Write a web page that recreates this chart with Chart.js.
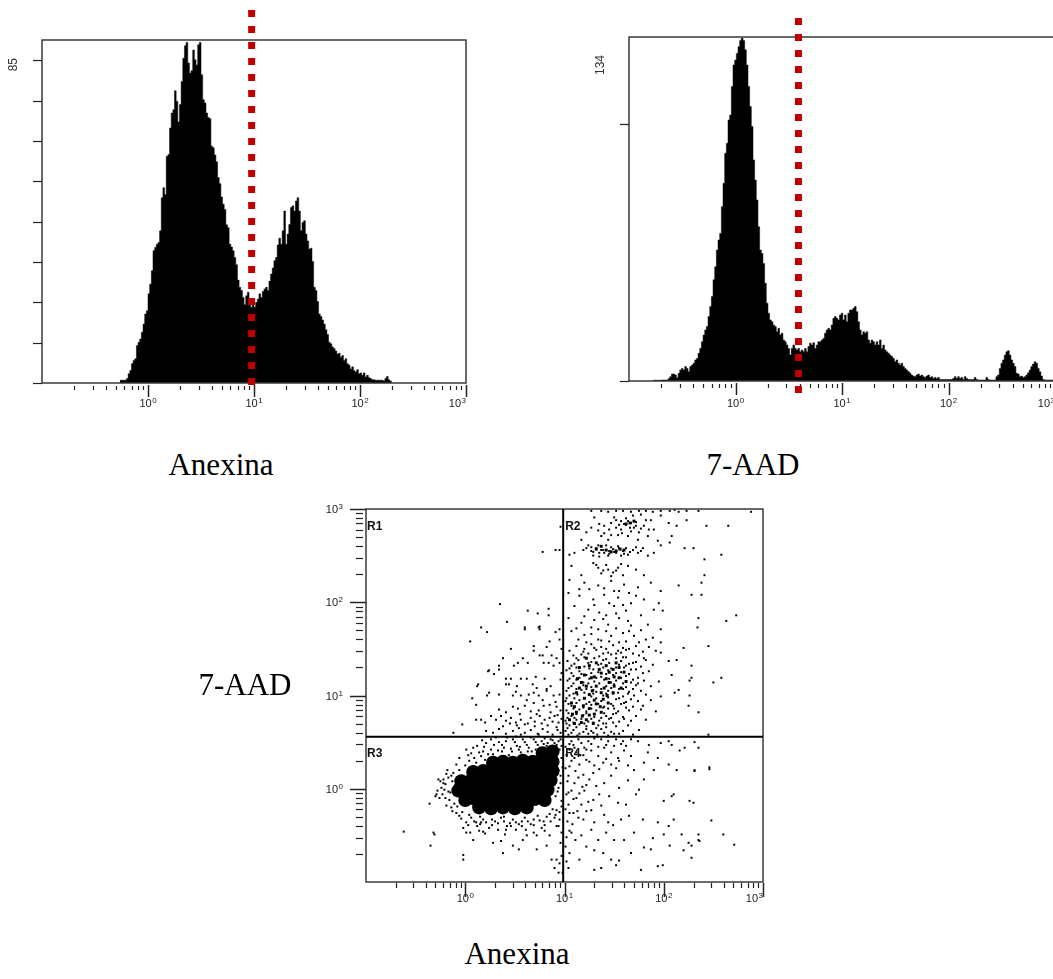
<!DOCTYPE html>
<html>
<head>
<meta charset="utf-8">
<script src="https://cdn.jsdelivr.net/npm/chart.js@4.4.1/dist/chart.umd.min.js"></script>
<style>
  html, body { margin: 0; padding: 0; background: #fff; overflow: hidden; width: 1053px; height: 979px; }
  canvas { position: absolute; }
  .caption { position: absolute; width: 200px; text-align: center; white-space: nowrap;
             font-family: "Liberation Serif", "Times New Roman", serif; font-size: 31px; line-height: 31px; color: #000; }
</style>
</head>
<body>
<canvas id="anxHist" width="480" height="420" style="left:0;top:0"></canvas>
<canvas id="aadHist" width="484" height="420" style="left:580px;top:0"></canvas>
<canvas id="dotPlot" width="460" height="440" style="left:320px;top:495px"></canvas>
<div class="caption" style="left:121px;top:449px">Anexina</div>
<div class="caption" style="left:653px;top:449px">7-AAD</div>
<div class="caption" style="left:145px;top:669px">7-AAD</div>
<div class="caption" style="left:417px;top:938px">Anexina</div>
<script>
// 1024 channels over 4 decades; histograms are stored in 4-channel bins
const BIN_CHANNELS = 4;

// Anexina histogram (counts per bin, starting at channel 188)
const anxFirstChannel = 188;
const anxCounts = [
  0.7, 0.7, 0.7, 0.7, 1.1, 2.3, 3.1, 4.8, 5.6, 6.0,
  9.3, 10.1, 10.9, 12.6, 14.6, 17.1, 17.9, 22.1, 24.5, 27.8,
  32.8, 33.6, 34.4, 34.8, 37.7, 45.9, 48.4, 46.7, 56.2, 56.6,
  63.2, 66.9, 67.7, 72.4, 69.8, 64.7, 69.0, 74.7, 80.5, 83.6,
  84.4, 79.3, 76.8, 77.4, 82.5, 80.1, 78.8, 83.8, 84.4, 76.4,
  70.2, 69.4, 66.9, 65.8, 65.5, 58.7, 58.3, 56.5, 54.8, 50.9,
  49.4, 46.1, 44.3, 43.0, 39.2, 38.5, 34.4, 33.7, 32.8, 31.1,
  29.3, 25.5, 23.7, 22.9, 21.2, 19.4, 21.6, 22.5, 20.8, 18.8,
  19.4, 18.8, 20.0, 20.8, 22.1, 21.2, 22.7, 23.3, 23.7, 22.9,
  25.2, 27.0, 28.5, 30.3, 31.1, 34.2, 35.9, 34.4, 37.7, 42.6,
  34.4, 36.9, 39.3, 43.5, 43.9, 42.6, 45.1, 45.9, 42.6, 37.7,
  39.8, 40.2, 36.9, 35.2, 33.2, 33.4, 30.1, 23.7, 22.9, 20.2,
  17.1, 16.5, 15.6, 14.6, 13.2, 12.0, 10.1, 9.7, 8.9, 8.5,
  7.9, 7.2, 7.4, 6.4, 6.8, 5.6, 6.0, 4.8, 4.4, 3.5,
  4.0, 3.1, 2.7, 3.3, 2.3, 2.5, 1.9, 2.5, 1.5, 1.9,
  1.3, 1.1, 0.8, 0.8, 0.7, 0.7, 0.7, 0.7, 0.7, 0.5,
  1.1, 1.6, 0.8, 0.5
];
const anxMax = 85;
const anxYTicks = [0, 10, 20, 30, 40, 50, 60, 70, 80];
const anxGate = 9.5;

// 7-AAD histogram (counts per bin, starting at channel 58)
const aadFirstChannel = 58;
const aadCounts = [
  0.3, 0.3, 0.3, 0.3, 0.3, 0.4, 0.4, 0.4, 0.4, 1.0,
  1.7, 2.7, 2.7, 2.3, 1.3, 3.0, 4.3, 4.9, 4.3, 5.6,
  4.9, 3.6, 5.6, 6.2, 6.9, 8.2, 8.8, 10.8, 12.7, 15.3,
  17.9, 19.9, 21.2, 25.1, 29.0, 32.9, 39.4, 44.5, 51.0, 54.9,
  57.5, 67.9, 77.0, 88.7, 92.6, 101.7, 103.6, 114.7, 123.1, 125.0,
  127.6, 130.2, 132.6, 133.6, 132.6, 129.0, 123.1, 114.7, 106.9, 99.1,
  86.1, 78.3, 70.5, 60.1, 51.0, 49.7, 45.8, 38.1, 30.3, 26.4,
  23.8, 23.1, 21.8, 21.2, 19.2, 20.5, 17.9, 18.6, 16.0, 15.3,
  14.0, 12.7, 10.1, 12.7, 14.0, 12.7, 12.1, 12.7, 11.4, 12.1,
  11.4, 12.7, 11.4, 13.4, 14.7, 14.0, 14.9, 12.7, 14.0, 15.3,
  15.3, 16.0, 16.6, 18.6, 19.9, 20.5, 19.9, 21.8, 24.4, 25.1,
  24.4, 23.8, 25.7, 26.4, 23.8, 25.7, 23.1, 26.4, 27.7, 27.7,
  28.3, 29.0, 27.0, 23.1, 19.9, 17.9, 19.2, 18.6, 19.2, 16.0,
  14.7, 16.0, 15.3, 14.0, 15.3, 14.0, 16.0, 12.7, 14.0, 12.1,
  11.4, 10.8, 10.1, 9.5, 8.8, 7.5, 8.2, 6.9, 6.2, 6.9,
  5.6, 4.9, 4.3, 3.6, 3.0, 2.3, 1.9, 1.7, 2.3, 2.7,
  1.9, 2.3, 1.7, 1.4, 1.9, 2.3, 1.4, 1.7, 1.0, 1.4,
  1.0, 1.4, 0.6, 0.6, 0.6, 0.6, 0.6, 0.6, 0.6, 0.6,
  1.0, 1.7, 1.0, 1.7, 1.0, 1.4, 0.6, 1.7, 1.0, 0.6,
  0.6, 0.6, 0.6, 1.4, 0.6, 0.4, 0.4, 0.4, 0.4, 0.4,
  1.4, 0.6, 0.4, 0.4, 0.4, 0.4, 1.7, 2.3, 4.9, 6.9,
  8.2, 10.1, 11.4, 11.8, 10.1, 8.2, 6.9, 5.6, 3.0, 2.7,
  1.7, 1.9, 1.4, 1.7, 2.3, 3.2, 4.3, 5.6, 6.6, 7.5,
  6.9, 4.9, 3.6, 1.9, 0.6, 0.4, 0.4, 0.4, 0.4, 0.4,
  0.4
];
const aadMax = 134;
const aadYTicks = [0, 100];
const aadGate = 3.9;

// log axis tick positions; the decades get a "10^n" label
const decadeTicks = [
  0.2, 0.3, 0.4, 0.5, 0.6, 0.7, 0.8, 0.9, 1,
  2, 3, 4, 5, 6, 7, 8, 9, 10,
  20, 30, 40, 50, 60, 70, 80, 90, 100,
  200, 300, 400, 500, 600, 700, 800, 900, 1000
];
const labelledDecades = [1, 10, 100, 1000];

// dot plot quadrant gates (Anexina, 7-AAD)
const quadAnx = 9.7;
const quadAad = 3.6;
const quadNames = ['R1', 'R2', 'R3', 'R4'];

// dot plot events, stored as [log10 Anexina, log10 7-AAD]
const r1Events = [
  [0.96,2.81],[0.78,2.54],[0.91,2.56],[0.95,2.56],[0.35,1.98],[0.63,1.91],[0.73,1.88],[0.84,1.93],[0.84,1.86],[0.42,1.79],
  [0.16,1.73],[0.22,1.68],[0.60,1.73],[0.75,1.74],[0.75,1.71],[0.91,1.68],[0.95,1.71],[0.05,1.58],[0.46,1.50],[0.69,1.53],
  [0.69,1.48],[0.82,1.52],[0.85,1.58],[0.95,1.60],[0.97,1.50],[0.38,1.40],[0.58,1.40],[0.75,1.43],[0.78,1.43],[0.87,1.43],
  [0.92,1.40],[0.34,1.32],[0.34,1.28],[0.49,1.32],[0.53,1.35],[0.63,1.35],[0.79,1.35],[0.84,1.35],[0.89,1.32],[0.95,1.35],
  [0.24,1.27],[0.29,1.23],[0.97,1.24],[0.41,1.18],[0.46,1.18],[0.56,1.18],[0.62,1.18],[0.71,1.20],[0.80,1.18],[0.96,1.17],
  [0.12,1.10],[0.41,1.12],[0.44,1.12],[0.52,1.10],[0.72,1.08],[0.82,1.07],[0.07,0.97],[0.22,1.00],[0.24,1.03],[0.34,1.01],
  [0.48,1.00],[0.51,1.04],[0.56,1.00],[0.64,1.01],[0.69,1.03],[0.74,1.00],[0.82,1.05],[0.89,1.00],[0.95,1.01],[0.11,0.90],
  [0.34,0.85],[0.41,0.82],[0.48,0.88],[0.53,0.86],[0.60,0.89],[0.69,0.92],[0.74,0.84],[0.79,0.89],[0.85,0.90],[0.92,0.88],
  [0.96,0.84],[0.11,0.74],[0.16,0.74],[0.20,0.71],[0.26,0.78],[0.31,0.74],[0.36,0.78],[0.41,0.73],[0.46,0.76],[0.51,0.71],
  [0.56,0.74],[0.60,0.69],[0.66,0.76],[0.70,0.72],[0.75,0.78],[0.80,0.74],[0.85,0.76],[0.90,0.78],[0.94,0.71],[0.97,0.75],
  [-0.03,0.69],[-0.12,0.60],[0.21,0.62],[0.28,0.60],[0.34,0.64],[0.41,0.59],[0.48,0.62],[0.54,0.65],[0.60,0.60],[0.66,0.63],
  [0.73,0.59],[0.78,0.64],[0.83,0.61],[0.88,0.58],[0.93,0.63],[0.96,0.60],[0.56,0.58],[0.74,0.58],[0.23,1.26],[0.13,1.12],
  [0.60,1.71],[0.74,1.73],
  [0.63,0.70],[0.70,0.67],[0.77,0.70],[0.83,0.68],[0.88,0.72],[0.92,0.66],[0.52,0.68],[0.45,0.70],[0.38,0.67],[0.72,0.80],
  [0.86,0.82],[0.93,0.79],[0.66,0.83],[0.55,0.80],[0.91,0.93],[0.78,0.95],[0.62,0.95],[0.86,1.10],[0.68,1.12]
];
const r2Events = [
  [1.27,2.98],[1.37,2.98],[1.44,2.97],[1.52,2.98],[1.59,2.98],[1.67,2.97],[1.75,2.98],[1.82,2.98],[1.89,2.97],[1.97,2.98],
  [2.06,2.98],[2.15,2.97],[2.23,2.98],[2.35,2.98],[2.88,2.97],
  [1.27,2.80],[1.34,2.77],[1.40,2.82],[1.47,2.85],[1.52,2.80],[1.57,2.87],[1.62,2.83],[1.67,2.85],[1.70,2.80],[1.75,2.75],
  [1.80,2.82],[1.37,2.71],[1.44,2.67],[1.54,2.72],[1.64,2.71],[1.74,2.67],[1.84,2.71],[1.90,2.78],[1.97,2.93],[2.05,2.85],
  [2.08,2.71],[2.13,2.82],[1.30,2.91],[1.17,2.67],[1.22,2.75],[1.87,2.88],[1.94,2.66],[1.69,2.93],[1.50,2.91],[1.77,2.94],
  [1.60,2.84],[1.64,2.87],[1.55,2.83],[1.72,2.86],
  [1.52,2.88],[1.57,2.78],[1.62,2.90],[1.66,2.80],[1.72,2.82],[1.77,2.79],[1.45,2.78],[1.40,2.74],[1.58,2.74],[1.67,2.76],
  [1.82,2.88],[1.35,2.84],[1.47,2.72],[1.85,2.78],
  [1.19,2.56],[1.24,2.61],[1.27,2.55],[1.32,2.58],[1.35,2.53],[1.39,2.56],[1.42,2.61],[1.45,2.55],[1.49,2.57],[1.52,2.53],
  [1.55,2.58],[1.59,2.55],[1.64,2.51],[1.69,2.56],[1.74,2.53],[1.79,2.58],[1.84,2.50],[1.29,2.50],[1.44,2.50],[1.57,2.50],
  [1.10,2.53],[1.90,2.53],[1.97,2.61],[1.05,2.51],
  [1.22,2.58],[1.29,2.54],[1.34,2.61],[1.37,2.56],[1.40,2.53],[1.47,2.59],[1.50,2.54],[1.54,2.60],[1.62,2.58],[1.66,2.54],
  [1.72,2.59],[1.77,2.55],[1.27,2.59],[1.45,2.52],[1.60,2.52],[1.35,2.49],
  [1.29,2.42],[1.34,2.37],[1.39,2.34],[1.44,2.35],[1.49,2.32],[1.54,2.37],[1.59,2.29],[1.17,2.29],[1.64,2.39],[1.72,2.35],
  [1.80,2.29],[1.07,2.39],[1.32,2.40],[1.42,2.40],[1.52,2.34],[1.57,2.41],[1.37,2.31],[1.47,2.28],
  [1.05,2.24],[1.20,2.21],[1.34,2.18],[1.47,2.23],[1.60,2.19],[1.74,2.16],[1.87,2.21],[1.97,2.12],[1.04,2.10],[1.15,2.07],
  [1.29,2.03],[1.40,2.08],[1.54,2.05],[1.67,1.99],[1.80,2.03],[1.10,1.96],[1.24,1.92],[1.35,1.89],[1.50,1.96],[1.62,1.91],
  [1.77,1.86],[1.90,1.92],[1.04,1.83],[1.17,1.78],[1.30,1.81],[1.44,1.76],[1.55,1.83],[1.67,1.75],[1.84,1.76],[1.97,1.71],
  [1.07,1.69],[1.20,1.65],[1.34,1.71],[1.47,1.64],[1.59,1.67],[1.70,1.64],[1.82,1.60],[1.14,1.60],[1.37,1.59],[1.55,1.57],
  [1.27,1.73],[1.42,1.86],[1.72,2.07],[1.99,1.91],[1.50,2.12],
  [1.15,2.14],[1.25,2.14],[1.40,2.15],[1.55,2.12],[1.65,2.10],[1.30,1.97],[1.45,1.99],[1.59,1.97],[1.20,1.85],[1.39,1.82],
  [1.52,1.88],[1.64,1.80],[1.12,1.72],[1.27,1.66],[1.42,1.69],[1.52,1.72],[1.65,1.69],[1.77,1.70],[1.22,1.57],[1.34,1.60],
  [1.45,1.58],[1.62,1.58],[1.75,1.57],[1.89,1.62],
  [2.11,2.99],[2.23,2.88],[2.43,2.82],[2.65,2.82],[2.06,2.64],[2.21,2.58],[2.30,2.58],[2.41,2.46],[2.58,2.51],[2.41,2.29],
  [2.15,2.18],[2.38,2.21],[2.28,2.08],[2.38,2.08],[1.95,1.99],[2.35,1.83],[2.73,1.86],[2.63,1.80],[2.45,1.53],[2.20,1.51],
  [2.13,1.38],[2.28,1.32],[2.50,1.14],[2.58,1.19],[2.28,1.19],[2.26,1.16],[2.15,1.06],[2.08,1.22],[1.97,1.46],[2.05,1.37],
  [1.97,1.57],[2.35,0.82],[2.26,1.00],[2.25,0.89],[2.11,1.03],[2.45,0.58],[2.34,1.73],
  [1.12,1.53],[1.27,1.55],[1.37,1.52],[1.49,1.54],[1.59,1.51],[1.72,1.53],[1.85,1.52],
  [1.05,1.48],[1.19,1.47],[1.32,1.49],[1.44,1.46],[1.54,1.48],[1.65,1.50],[1.79,1.47],[1.92,1.48],
  [1.09,1.43],[1.17,1.44],[1.35,1.42],[1.47,1.44],[1.62,1.41],[1.75,1.43],
  [1.03,1.37],[1.14,1.38],[1.27,1.36],[1.39,1.38],[1.57,1.37],[1.69,1.35],[1.82,1.38],
  [1.07,1.32],[1.20,1.31],[1.34,1.33],[1.52,1.30],[1.62,1.32],[1.77,1.31],[1.89,1.33],
  [1.02,1.27],[1.15,1.26],[1.29,1.28],[1.44,1.27],[1.57,1.25],[1.67,1.28],[1.85,1.26],
  [1.09,1.21],[1.22,1.22],[1.37,1.20],[1.49,1.22],[1.62,1.21],[1.74,1.19],
  [1.03,1.16],[1.12,1.17],[1.30,1.15],[1.40,1.17],[1.52,1.16],[1.67,1.14],[1.80,1.16],[1.95,1.15],
  [1.07,1.10],[1.19,1.11],[1.27,1.09],[1.42,1.10],[1.50,1.12],[1.62,1.09],[1.72,1.11],[1.87,1.10],
  [1.02,1.05],[1.17,1.06],[1.32,1.04],[1.44,1.05],[1.55,1.07],[1.65,1.04],[1.77,1.05],
  [1.05,1.00],[1.13,1.01],[1.27,0.99],[1.39,1.00],[1.49,1.02],[1.59,0.99],[1.70,1.00],[1.82,1.01],[1.97,0.99],
  [1.01,0.94],[1.15,0.95],[1.25,0.93],[1.37,0.94],[1.52,0.96],[1.62,0.93],[1.74,0.94],[1.87,0.95],
  [1.07,0.89],[1.27,0.90],[1.40,0.88],[1.49,0.89],[1.57,0.91],[1.69,0.88],[1.79,0.89],
  [1.02,0.84],[1.15,0.85],[1.22,0.83],[1.32,0.84],[1.44,0.86],[1.54,0.83],[1.65,0.84],[1.77,0.85],[1.92,0.83],
  [1.07,0.78],[1.19,0.79],[1.30,0.77],[1.42,0.78],[1.49,0.80],[1.59,0.77],[1.72,0.78],
  [1.01,0.73],[1.12,0.74],[1.24,0.72],[1.35,0.73],[1.45,0.75],[1.55,0.72],[1.67,0.73],[1.82,0.74],
  [1.05,0.68],[1.15,0.69],[1.22,0.67],[1.34,0.68],[1.42,0.70],[1.52,0.67],[1.64,0.68],
  [1.01,0.62],[1.09,0.63],[1.19,0.61],[1.27,0.62],[1.37,0.64],[1.47,0.61],[1.59,0.62],[1.75,0.63],
  [1.04,0.58],[1.13,0.57],[1.24,0.59],[1.33,0.58],[1.44,0.57],[1.55,0.59],[1.69,0.58],
  [1.20,1.50],[1.30,1.51],[1.42,1.50],[1.62,1.49],[1.24,1.45],[1.39,1.45],[1.52,1.45],[1.57,1.46],[1.69,1.45],
  [1.12,1.40],[1.20,1.41],[1.30,1.40],[1.42,1.39],[1.52,1.40],[1.59,1.41],[1.80,1.40],
  [1.10,1.34],[1.24,1.35],[1.37,1.34],[1.45,1.35],[1.55,1.33],[1.65,1.34],[1.72,1.36],
  [1.05,1.29],[1.12,1.30],[1.25,1.29],[1.39,1.30],[1.47,1.29],[1.60,1.30],[1.72,1.28],
  [1.07,1.24],[1.17,1.23],[1.27,1.24],[1.34,1.25],[1.42,1.23],[1.52,1.24],[1.65,1.23],[1.79,1.24],
  [1.05,1.18],[1.15,1.19],[1.25,1.18],[1.32,1.19],[1.45,1.18],[1.57,1.19],[1.69,1.17],
  [1.09,1.13],[1.19,1.14],[1.24,1.13],[1.35,1.13],[1.47,1.14],[1.59,1.13],[1.74,1.13],
  [1.04,1.08],[1.12,1.07],[1.22,1.07],[1.29,1.06],[1.37,1.07],[1.47,1.08],[1.59,1.07],[1.69,1.07],
  [1.09,1.02],[1.20,1.03],[1.29,1.02],[1.42,1.02],[1.54,1.03],[1.64,1.02],
  [1.02,0.97],[1.10,0.97],[1.20,0.97],[1.32,0.97],[1.44,0.98],[1.55,0.97],[1.67,0.96],
  [1.04,0.91],[1.12,0.92],[1.22,0.91],[1.34,0.91],[1.47,0.91],[1.60,0.92],
  [1.09,0.86],[1.19,0.87],[1.27,0.86],[1.39,0.87],[1.50,0.86],[1.62,0.87],
  [1.04,0.81],[1.12,0.80],[1.22,0.81],[1.30,0.80],[1.40,0.81],[1.52,0.81],
  [1.03,0.76],[1.10,0.76],[1.17,0.75],[1.27,0.75],[1.37,0.76],[1.47,0.76],[1.60,0.75],
  [1.02,0.70],[1.09,0.71],[1.20,0.70],[1.29,0.71],[1.39,0.70],[1.49,0.71],
  [1.03,0.65],[1.12,0.66],[1.22,0.64],[1.32,0.65],[1.42,0.66],
  [1.07,0.60],[1.15,0.59],[1.29,0.60],[1.40,0.60],[1.50,0.59]
];
const r3Events = [
  [-0.62,-0.46],[-0.35,-0.61],[-0.32,-0.47],[-0.31,-0.49],[-0.36,-0.16],[-0.29,-0.06],[-0.27,0.10],[-0.22,0.06],[-0.21,-0.01],[-0.02,-0.71],
  [-0.02,-0.76],[0.08,-0.55],[0.18,-0.46],[0.01,-0.47],[0.11,-0.36],[0.16,-0.36],[0.28,-0.58],[0.36,-0.56],[0.38,-0.69],[0.48,-0.61],
  [0.54,-0.65],[0.58,-0.55],[0.69,-0.47],[0.72,-0.50],[0.72,-0.65],[0.82,-0.61],[0.85,-0.50],[0.87,-0.76],[0.92,-0.76],[0.90,-0.85],
  [0.94,-0.90],[0.41,-0.44],[0.61,-0.44],[0.46,-0.40],
  [-0.06,0.33],[0.01,0.42],[0.06,0.38],[0.12,0.46],[0.16,0.35],[0.21,0.49],[0.26,0.42],[0.30,0.33],[0.34,0.50],[0.39,0.44],
  [0.44,0.36],[0.48,0.53],[0.52,0.46],[0.56,0.39],[0.60,0.50],[0.64,0.44],[0.69,0.53],[0.73,0.47],[0.77,0.51],[0.82,0.46],
  [0.86,0.53],[0.90,0.49],[0.94,0.51],[0.97,0.46],[0.85,0.42],[0.41,0.51],[0.26,0.53],[0.04,0.30],[0.11,0.28],[0.20,0.31],
  [-0.24,0.01],[-0.20,-0.10],[-0.17,0.12],[-0.14,-0.20],[-0.12,0.17],[-0.09,-0.26],[-0.19,-0.18],[-0.15,-0.04],[-0.10,0.04],[-0.22,0.10],
  [-0.18,0.20],[-0.26,-0.10],[-0.28,-0.02],
  [-0.06,-0.29],[0.01,-0.36],[0.06,-0.31],[0.12,-0.40],[0.18,-0.33],[0.24,-0.42],[0.30,-0.35],[0.36,-0.31],[0.42,-0.40],[0.48,-0.33],
  [0.54,-0.38],[0.60,-0.31],[0.66,-0.38],[0.73,-0.29],[0.79,-0.35],[0.85,-0.27],[0.90,-0.31],[0.95,-0.25],[-0.02,-0.42],[0.14,-0.45],
  [0.33,-0.44],[0.51,-0.44],[0.77,-0.42],[0.92,-0.40],
  [0.93,0.28],[0.96,0.14],[0.94,0.01],[0.97,-0.13],[0.92,-0.23],[0.95,-0.33],[0.98,0.23],[0.91,-0.08],[0.96,-0.58],[0.97,-0.72],
  [0.95,-0.80],[0.98,-0.90],
  [0.00,0.25],[0.09,0.33],[0.18,0.40],[0.28,0.37],[0.37,0.40],[0.46,0.43],[0.55,0.45],[0.63,0.40],[0.71,0.42],[0.79,0.48],
  [0.88,0.44],[-0.13,0.08],[-0.16,-0.12],[-0.08,-0.19],[-0.03,-0.25],[0.04,-0.28],[0.15,-0.30],[0.27,-0.33],[0.39,-0.30],[0.57,-0.35],
  [0.69,-0.33],[0.82,-0.30],[0.88,-0.22],[0.92,0.36],[0.95,0.42],
  [0.03,0.36],[0.08,0.44],[0.14,0.39],[0.19,0.45],[0.23,0.37],[0.29,0.47],[0.33,0.41],[0.37,0.47],[0.42,0.55],[0.47,0.40],
  [0.50,0.50],[0.54,0.42],[0.58,0.53],[0.62,0.47],[0.67,0.40],[0.71,0.50],[0.75,0.44],[0.80,0.54],[0.83,0.49],[0.88,0.52],
  [0.92,0.47],[0.96,0.53],[0.66,0.55],[0.51,0.56],[0.31,0.55],[0.17,0.52],
  [-0.20,0.05],[-0.17,-0.03],[-0.23,-0.06],[-0.14,0.14],[-0.11,-0.16],[-0.25,0.08],[-0.30,-0.08],[-0.19,0.16],[-0.13,-0.24],[-0.06,0.20],
  [-0.09,0.26],
  [-0.04,-0.32],[0.03,-0.39],[0.09,-0.35],[0.15,-0.38],[0.21,-0.36],[0.27,-0.39],[0.33,-0.37],[0.39,-0.35],[0.45,-0.37],[0.51,-0.36],
  [0.57,-0.40],[0.63,-0.35],[0.69,-0.39],[0.75,-0.34],[0.80,-0.39],[0.86,-0.35],[0.91,-0.28],[0.20,-0.48],[0.40,-0.49],[0.62,-0.50],
  [0.80,-0.45],[0.05,-0.47],
  [0.94,0.20],[0.97,0.33],[0.96,0.06],[0.93,-0.03],[0.97,-0.19],[0.94,-0.40],[0.97,-0.47],[0.91,0.12]
];
const r4Events = [
  [1.07,0.51],[1.14,0.53],[1.24,0.51],[1.30,0.54],[1.37,0.53],[1.44,0.51],[1.52,0.53],[1.59,0.51],[1.67,0.53],[1.74,0.51],
  [1.97,0.49],[2.05,0.51],[2.08,0.47],[2.31,0.50],[2.35,0.44],[2.16,0.41],[2.21,0.44],
  [1.05,0.42],[1.12,0.39],[1.20,0.44],[1.27,0.41],[1.34,0.35],[1.40,0.44],[1.47,0.39],[1.54,0.33],[1.60,0.41],[1.67,0.35],
  [1.84,0.39],[1.94,0.33],[1.07,0.30],[1.15,0.26],[1.22,0.31],[1.30,0.25],[1.39,0.28],[1.47,0.26],[1.55,0.30],[1.64,0.25],
  [1.70,0.20],[1.80,0.28],[1.90,0.20],[2.05,0.26],[2.13,0.20],[2.31,0.19],[2.46,0.23],
  [1.04,0.14],[1.10,0.06],[1.19,0.15],[1.25,0.10],[1.32,0.03],[1.40,0.06],[1.47,0.14],[1.55,0.01],[1.64,0.09],[1.72,-0.06],
  [1.80,0.10],[1.04,-0.04],[1.12,-0.10],[1.20,-0.02],[1.29,-0.12],[1.35,-0.06],[1.45,-0.08],[1.54,-0.15],[1.62,-0.17],[1.75,-0.01],
  [2.00,-0.13],[2.10,-0.06],[2.30,-0.15],[1.04,-0.17],[1.17,-0.17],[1.37,-0.18],
  [1.05,-0.26],[1.14,-0.31],[1.22,-0.24],[1.30,-0.36],[1.44,-0.36],[1.49,-0.39],[1.57,-0.33],[1.65,-0.29],[1.70,-0.47],[1.79,-0.33],
  [1.94,-0.36],[2.05,-0.40],[2.10,-0.33],[2.18,-0.49],[2.35,-0.49],[2.48,-0.34],[2.60,-0.49],[1.07,-0.47],[1.17,-0.50],[1.27,-0.44],
  [1.34,-0.55],[1.42,-0.47],[1.50,-0.55],[1.60,-0.55],[1.89,-0.53],[2.00,-0.49],[2.25,-0.58],[2.35,-0.55],[2.71,-0.60],
  [1.05,-0.69],[1.15,-0.76],[1.30,-0.66],[1.39,-0.69],[1.47,-0.76],[1.52,-0.82],[1.55,-0.77],[1.67,-0.69],[1.77,-0.87],[1.80,-0.63],
  [1.87,-0.65],[1.94,-0.83],[1.99,-0.82],[2.06,-0.61],[2.20,-0.66],[2.28,-0.74],[1.04,-0.85],[1.37,-0.85],[1.30,-0.87],
  [2.31,0.20],[2.46,0.21],[2.26,-0.13],[2.36,-0.56],[2.28,-0.61],[2.08,-0.08],
  [1.01,0.45],[1.02,0.36],[1.01,0.22],[1.03,0.08],[1.02,-0.06],[1.01,-0.22],[1.03,-0.35],[1.02,-0.52],[1.01,-0.62],[1.02,-0.78],
  [1.09,0.47],[1.11,0.19],[1.09,-0.11],[1.08,-0.38],[1.16,0.36],[1.18,0.02],[1.13,-0.24],
  [1.05,0.48],[1.10,0.44],[1.17,0.49],[1.22,0.42],[1.27,0.48],[1.34,0.45],[1.42,0.47],[1.50,0.46],[1.57,0.48],[1.10,0.33],
  [1.19,0.36],[1.25,0.29],[1.35,0.21],[1.42,0.32],[1.52,0.22],[1.05,0.24],[1.14,0.12],[1.22,0.04],[1.29,0.17],[1.07,-0.02],
  [1.15,-0.05],[1.24,-0.14],[1.09,-0.26],[1.19,-0.33],[1.27,-0.23],[1.11,-0.55],[1.22,-0.62],[1.05,-0.45],[1.62,0.46],[1.85,0.47],
  [1.40,-0.28]
];
// crowded spots where single dots run together
const r2Crowd = [
  [1.22,1.40],[1.32,1.35],[1.42,1.32],[1.49,1.28],[1.37,1.24],[1.27,1.19],[1.17,1.14],[1.32,1.10],[1.45,1.14],[1.55,1.19],
  [1.12,1.03],[1.25,1.01],[1.37,1.03],[1.49,1.03],[1.07,0.92],[1.19,0.89],[1.32,0.91],[1.44,0.92],[1.12,0.82],[1.25,0.79],
  [1.37,0.82],[1.05,0.74],[1.17,0.71],[1.29,0.70],[1.52,1.35],[1.57,1.08],
  [1.15,1.30],[1.25,1.32],[1.35,1.28],[1.45,1.25],[1.20,1.22],[1.30,1.20],[1.42,1.18],[1.50,1.20],[1.13,1.18],[1.22,1.10],
  [1.40,1.08],[1.50,1.10],[1.15,1.08],[1.28,1.05],[1.43,1.00],[1.20,0.97],[1.30,0.95],[1.39,0.96],[1.10,0.88],[1.25,0.86],
  [1.36,0.88],[1.08,0.80],[1.18,0.78],[1.30,0.80],[1.10,0.70],[1.22,0.74],[1.60,1.25],[1.55,1.30],[1.62,1.15],
  [1.32,2.57],[1.42,2.56],[1.52,2.55],[1.60,2.56],[1.62,2.84],[1.70,2.87],[1.37,2.60],[1.47,2.54],[1.56,2.57],[1.66,2.85]
];
const r3Crowd = [
  [0.78,0.38],[0.88,0.40],
  [0.28,0.28],[0.38,0.29],[0.48,0.28],[0.58,0.30],[0.68,0.29],[0.78,0.30],[0.88,0.29],
  [0.08,0.18],[0.18,0.19],[0.28,0.18],[0.38,0.19],[0.48,0.18],[0.58,0.19],[0.68,0.18],[0.78,0.20],[0.88,0.19],
  [-0.04,0.08],[0.06,0.09],[0.16,0.08],[0.26,0.09],[0.36,0.08],[0.46,0.09],[0.56,0.08],[0.66,0.09],[0.76,0.08],[0.86,0.09],
  [-0.07,-0.02],[0.03,-0.01],[0.13,-0.02],[0.23,-0.01],[0.33,-0.02],[0.43,-0.01],[0.53,-0.02],[0.63,-0.01],[0.73,-0.02],[0.83,-0.01],
  [0.00,-0.12],[0.10,-0.11],[0.20,-0.12],[0.30,-0.11],[0.40,-0.12],[0.50,-0.11],[0.60,-0.12],[0.70,-0.11],[0.80,-0.12],
  [0.14,-0.20],[0.26,-0.21],[0.38,-0.20],[0.50,-0.21],[0.62,-0.20]
];

const labelFamily = '"Liberation Sans", Arial, sans-serif';
const frameColor = '#3a3a3a';
const gateRed = '#c00000';

const chanToValue = ch => 10 ** (ch / 256 - 1);
const isDecade = v => Math.abs(Math.log10(v) - Math.round(Math.log10(v))) < 1e-9;
const toPoints = pairs => pairs.map(([lx, ly]) => ({x: 10 ** lx, y: 10 ** ly}));

function histPoints(counts, firstChannel) {
  const pts = counts.map((c, i) => ({x: chanToValue(firstChannel + i * BIN_CHANNELS), y: c}));
  pts.push({x: chanToValue(firstChannel + counts.length * BIN_CHANNELS), y: 0});
  return pts;
}

// fixed axis size, no extra room for labels hanging over the plot edges
function fixedSize(scale, prop, size) {
  scale[prop] = size;
  scale.paddingLeft = scale.paddingRight = scale.paddingTop = scale.paddingBottom = 0;
}

function logAxis(fit) {
  return {
    type: 'logarithmic',
    min: 0.1,
    max: 1000,
    grid: {display: false, drawTicks: false},
    border: {display: false},
    afterBuildTicks: scale => { scale.ticks = decadeTicks.map(v => ({value: v})); },
    afterFit: fit,
    ticks: {display: false}
  };
}

// "10" with a raised exponent; align is 'center', 'right' or 'left'
function powerLabel(ctx, value, x, baseline, align) {
  const exp = String(Math.round(Math.log10(value)));
  ctx.font = '11px ' + labelFamily;
  const wBase = ctx.measureText('10').width;
  ctx.font = '8px ' + labelFamily;
  const wExp = ctx.measureText(exp).width + 0.5;
  const total = wBase + wExp;
  const left = align === 'center' ? x - total / 2 : align === 'right' ? x - total : x;
  ctx.textAlign = 'left';
  ctx.textBaseline = 'alphabetic';
  ctx.font = '11px ' + labelFamily;
  ctx.fillText('10', left, baseline);
  ctx.font = '8px ' + labelFamily;
  ctx.fillText(exp, left + wBase + 0.5, baseline - 4);
}

function bottomLabels(ctx, scale, baseline) {
  ctx.fillStyle = '#222';
  labelledDecades.forEach(v => {
    const px = scale.getPixelForValue(v);
    powerLabel(ctx, v, px, baseline, v === 1000 ? 'right' : 'center');
  });
}

// frame, axis ticks, count label and the red gate of a histogram
function histDecor(o) {
  return {
    id: 'histDecor',
    afterDatasetsDraw(chart) {
      const {ctx, chartArea: a, scales: {x, y}} = chart;
      ctx.save();
      ctx.strokeStyle = frameColor;
      ctx.lineWidth = 1.5;
      ctx.strokeRect(a.left, a.top, a.width, a.height);

      ctx.strokeStyle = '#222';
      decadeTicks.forEach(v => {
        const px = Math.round(x.getPixelForValue(v)) + 0.5;
        const major = isDecade(v);
        ctx.lineWidth = major ? 1.5 : 1.2;
        ctx.beginPath();
        ctx.moveTo(px, a.bottom + (major ? 2 : 3));
        ctx.lineTo(px, a.bottom + (major ? 14 : 7));
        ctx.stroke();
      });
      ctx.lineWidth = 1.2;
      o.yTicks.forEach(v => {
        const py = Math.round(y.getPixelForValue(v)) + 0.5;
        ctx.beginPath();
        ctx.moveTo(a.left - 9, py);
        ctx.lineTo(a.left, py);
        ctx.stroke();
      });
      bottomLabels(ctx, x, o.labelBaseline);

      ctx.fillStyle = '#333';
      ctx.font = '12px ' + labelFamily;
      ctx.translate(a.left - 28, a.top + 18);
      ctx.rotate(-Math.PI / 2);
      ctx.textAlign = 'right';
      ctx.textBaseline = 'middle';
      ctx.fillText(String(o.maxLabel), 0, 0);
      ctx.restore();

      ctx.save();
      const gx = x.getPixelForValue(o.gate);
      ctx.strokeStyle = gateRed;
      ctx.lineWidth = 7;
      ctx.setLineDash([7, 9]);
      ctx.beginPath();
      ctx.moveTo(gx, o.gateTop);
      ctx.lineTo(gx, a.bottom + o.gateBelow);
      ctx.stroke();
      ctx.restore();
    }
  };
}

function histogram(id, counts, firstChannel, o) {
  return new Chart(document.getElementById(id), {
    type: 'line',
    data: {
      datasets: [{
        data: histPoints(counts, firstChannel),
        stepped: true,
        fill: 'origin',
        backgroundColor: '#000',
        borderColor: '#000',
        borderWidth: 0.5,
        pointRadius: 0
      }]
    },
    options: {
      responsive: false,
      animation: false,
      events: [],
      layout: {autoPadding: false, padding: {left: 0, top: o.top, right: o.right, bottom: 0}},
      plugins: {legend: {display: false}, tooltip: {enabled: false}},
      scales: {
        x: logAxis(s => fixedSize(s, 'height', o.axisHeight)),
        y: {
          type: 'linear', min: 0, max: o.yMax,
          grid: {display: false, drawTicks: false},
          border: {display: false},
          ticks: {display: false},
          afterFit: s => fixedSize(s, 'width', o.axisWidth)
        }
      }
    },
    plugins: [histDecor(o)]
  });
}

histogram('anxHist', anxCounts, anxFirstChannel, {
  yMax: anxMax, yTicks: anxYTicks, maxLabel: anxMax, gate: anxGate,
  gateTop: 10, gateBelow: 2, top: 40, right: 14, axisWidth: 42, axisHeight: 37, labelBaseline: 407
});
histogram('aadHist', aadCounts, aadFirstChannel, {
  yMax: aadMax, yTicks: aadYTicks, maxLabel: aadMax, gate: aadGate,
  gateTop: 18, gateBelow: 13, top: 37, right: 9, axisWidth: 49, axisHeight: 39, labelBaseline: 407
});

// dot plot: frame, log ticks on both axes, quadrant gates and their names
const dotDecor = {
  id: 'dotDecor',
  afterDatasetsDraw(chart) {
    const {ctx, chartArea: a, scales: {x, y}} = chart;
    ctx.save();
    ctx.strokeStyle = frameColor;
    ctx.lineWidth = 1.5;
    ctx.strokeRect(a.left, a.top, a.width, a.height);

    ctx.strokeStyle = '#222';
    decadeTicks.forEach(v => {
      const major = isDecade(v);
      ctx.lineWidth = major ? 1.5 : 1.2;
      const px = Math.round(x.getPixelForValue(v)) + 0.5;
      ctx.beginPath();
      ctx.moveTo(px, a.bottom + 1);
      ctx.lineTo(px, a.bottom + (major ? 15 : 6));
      ctx.stroke();
      const py = Math.round(y.getPixelForValue(v)) + 0.5;
      ctx.beginPath();
      ctx.moveTo(a.left - (major ? 16 : 10), py);
      ctx.lineTo(a.left - (major ? 0 : 3), py);
      ctx.stroke();
    });
    bottomLabels(ctx, x, a.bottom + 20);
    labelledDecades.forEach(v => {
      powerLabel(ctx, v, a.left - 23, y.getPixelForValue(v) + 4, 'right');
    });

    const gx = x.getPixelForValue(quadAnx);
    const gy = y.getPixelForValue(quadAad);
    ctx.strokeStyle = '#000';
    ctx.lineWidth = 2;
    ctx.beginPath();
    ctx.moveTo(gx, a.top);
    ctx.lineTo(gx, a.bottom);
    ctx.moveTo(a.left, gy);
    ctx.lineTo(a.right, gy);
    ctx.stroke();

    ctx.fillStyle = '#111';
    ctx.font = 'bold 12px ' + labelFamily;
    ctx.textAlign = 'left';
    ctx.textBaseline = 'alphabetic';
    ctx.fillText(quadNames[0], a.left + 1, a.top + 21);
    ctx.fillText(quadNames[1], gx + 2, a.top + 21);
    ctx.fillText(quadNames[2], a.left + 1, gy + 20);
    ctx.fillText(quadNames[3], gx + 2, gy + 20);
    ctx.restore();
  }
};

new Chart(document.getElementById('dotPlot'), {
  type: 'scatter',
  data: {
    datasets: [
      {data: toPoints(r3Crowd), pointRadius: 7, pointStyle: 'circle', backgroundColor: '#000', borderWidth: 0},
      {data: toPoints(r2Crowd), pointRadius: 2.1, pointStyle: 'rect', backgroundColor: '#000', borderWidth: 0},
      {data: toPoints([...r1Events, ...r2Events, ...r3Events, ...r4Events]),
       pointRadius: 1.4, pointStyle: 'rect', backgroundColor: '#000', borderWidth: 0}
    ]
  },
  options: {
    responsive: false,
    animation: false,
    events: [],
    layout: {autoPadding: false, padding: {left: 0, top: 14, right: 17, bottom: 0}},
    plugins: {legend: {display: false}, tooltip: {enabled: false}},
    scales: {
      x: logAxis(s => fixedSize(s, 'height', 53)),
      y: logAxis(s => fixedSize(s, 'width', 46))
    }
  },
  plugins: [dotDecor]
});
</script>
</body>
</html>
